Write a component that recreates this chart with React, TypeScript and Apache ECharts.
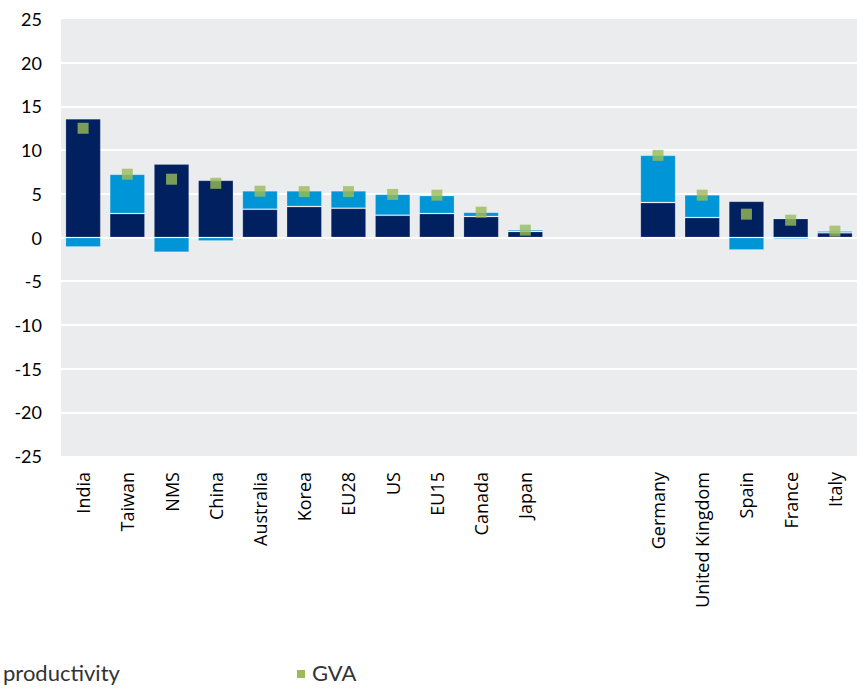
import React, { useEffect, useRef } from "react";
import * as echarts from "echarts";

const categories = [
  "India", "Taiwan", "NMS", "China", "Australia", "Korea", "EU28", "US", "EU15", "Canada", "Japan",
  "", " ",
  "Germany", "United Kingdom", "Spain", "France", "Italy",
];

const productivity = [13.6, 2.74, 8.4, 6.55, 3.24, 3.54, 3.35, 2.55, 2.74, 2.4, 0.69, null, null, 4.0, 2.28, 4.15, 2.17, 0.54];
const employment = [-1.1, 4.5, -1.7, -0.4, 2.1, 1.8, 2.0, 2.4, 2.06, 0.5, 0.19, null, null, 5.4, 2.6, -1.44, -0.18, 0.19];
const gva = [12.5, 7.24, 6.67, 6.2, 5.3, 5.25, 5.25, 4.93, 4.84, 2.9, 0.84, null, null, 9.4, 4.84, 2.67, 1.98, 0.73];

const yTicks = { min: -25, max: 25, interval: 5 };

export default function App() {
  const ref = useRef<HTMLDivElement>(null);
  useEffect(() => {
    if (!ref.current) return;
    const chart = echarts.init(ref.current, null, { renderer: "svg" });
    chart.setOption({
      animation: false,
      backgroundColor: "#ffffff",
      grid: {
        left: 61,
        top: 19,
        width: 810,
        height: 437,
        show: true,
        backgroundColor: "#EBECEE",
        borderWidth: 0,
        containLabel: false,
      },
      xAxis: {
        type: "category",
        data: categories,
        axisLine: { show: false, onZero: false },
        axisTick: { show: false },
        splitLine: { show: false },
        axisLabel: {
          rotate: 90,
          interval: 0,
          margin: 16,
          color: "#000",
          fontFamily: "Open Sans",
          fontSize: 18,
        },
      },
      yAxis: {
        type: "value",
        min: yTicks.min,
        max: yTicks.max,
        interval: yTicks.interval,
        axisLine: { show: false },
        axisTick: { show: false },
        axisLabel: {
          margin: 19,
          color: "#000",
          fontFamily: "Lato",
          fontSize: 18,
        },
        splitLine: {
          show: true,
          showMinLine: false,
          showMaxLine: false,
          lineStyle: { color: "#ffffff", width: 2 },
        },
      },
      series: [
        {
          name: "Labour productivity",
          type: "bar",
          stack: "total",
          data: productivity,
          barCategoryGap: "20%",
          itemStyle: { color: "#00205F", borderColor: "rgba(255,255,255,0.18)", borderWidth: 1 },
          z: 2,
        },
        {
          name: "Employment",
          type: "bar",
          stack: "total",
          data: employment,
          barCategoryGap: "20%",
          itemStyle: { color: "#0095D6", borderColor: "rgba(255,255,255,0.18)", borderWidth: 1 },
          z: 2,
        },
        {
          name: "GVA",
          type: "scatter",
          data: gva,
          symbol: "rect",
          symbolSize: 11,
          itemStyle: { color: "#9BBB59" },
          z: 5,
        },
      ],
      graphic: [
        {
          type: "text",
          left: 3,
          top: 661,
          style: { text: "productivity", fill: "#333", font: "22px Lato" },
        },
        {
          type: "rect",
          shape: { x: 297, y: 670, width: 8, height: 8 },
          style: { fill: "#9BBB59" },
        },
        {
          type: "text",
          left: 312,
          top: 661,
          style: { text: "GVA", fill: "#333", font: "22px Lato" },
        },
      ],
    });
    return () => chart.dispose();
  }, []);
  return (
    <div
      ref={ref}
      style={{ position: "fixed", left: 0, top: 0, width: 857, height: 688 }}
    />
  );
}
